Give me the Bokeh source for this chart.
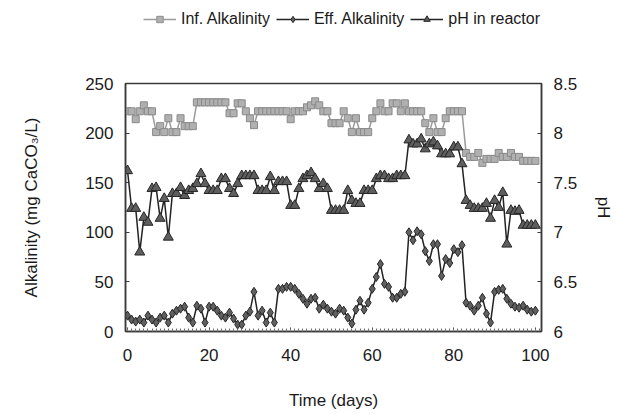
from bokeh.plotting import figure
from bokeh.layouts import column
from bokeh.models import (Range1d, LinearAxis, Legend, LegendItem,
                          SingleIntervalTicker)
from bokeh.embed import file_html
from bokeh.resources import INLINE

days = list(range(101))

inf_alk = [222, 222, 214, 222, 228, 222, 222, 201, 207, 201,
           215, 201, 201, 215, 207, 207, 207, 231, 231, 231,
           231, 231, 231, 231, 231, 220, 220, 230, 230, 222,
           215, 208, 222, 222, 222, 222, 222, 222, 222, 222,
           214, 222, 222, 222, 226, 228, 232, 228, 222, 222,
           210, 210, 210, 222, 215, 201, 215, 201, 201, 201,
           215, 222, 230, 222, 222, 230, 230, 222, 230, 222,
           222, 222, 222, 210, 201, 215, 201, 201, 215, 222,
           222, 222, 222, 180, 176, 176, 180, 170, 174, 174,
           174, 180, 176, 176, 180, 176, 176, 172, 172, 172, 172]

eff_alk = [16, 12, 10, 12, 9, 16, 12, 9, 14, 16,
           9, 18, 21, 23, 25, 14, 9, 26, 23, 9,
           25, 25, 21, 16, 14, 19, 13, 7, 7, 16,
           20, 40, 16, 21, 9, 19, 9, 43, 43, 45,
           45, 43, 38, 33, 28, 33, 34, 23, 27, 23,
           20, 18, 23, 21, 14, 8, 22, 31, 22, 29,
           43, 55, 68, 48, 45, 34, 34, 38, 40, 100,
           92, 101, 98, 81, 71, 88, 88, 56, 73, 69,
           83, 80, 87, 29, 26, 21, 26, 34, 18, 9,
           40, 42, 43, 33, 28, 25, 24, 26, 22, 20, 21]

ph = [7.62, 7.24, 7.24, 6.80, 7.15, 7.10, 7.44, 7.45, 7.14, 7.34,
      6.95, 7.39, 7.39, 7.45, 7.37, 7.42, 7.44, 7.49, 7.59, 7.49,
      7.42, 7.42, 7.42, 7.54, 7.54, 7.44, 7.39, 7.49, 7.57, 7.57,
      7.57, 7.57, 7.42, 7.42, 7.42, 7.56, 7.42, 7.51, 7.51, 7.51,
      7.27, 7.27, 7.44, 7.54, 7.57, 7.60, 7.54, 7.44, 7.49, 7.44,
      7.22, 7.22, 7.22, 7.22, 7.42, 7.32, 7.29, 7.29, 7.42, 7.42,
      7.42, 7.54, 7.57, 7.57, 7.54, 7.54, 7.57, 7.57, 7.57, 7.93,
      7.89, 7.89, 7.94, 7.84, 7.89, 7.91, 7.87, 7.79, 7.79, 7.79,
      7.86, 7.86, 7.69, 7.32, 7.27, 7.24, 7.24, 7.24, 7.29, 7.14,
      7.32, 7.25, 7.40, 6.88, 7.22, 7.21, 7.22, 7.07, 7.07, 7.07, 7.07]

x_ticks_interval = 20
series_labels = ["Inf. Alkalinity", "Eff. Alkalinity", "pH in reactor"]

FONT = "Liberation Sans"
TXT = "#1a1a1a"
AX = "#3a3a3a"

STY_INF_L = dict(line_color="#9a9a9a", line_width=1.5)
STY_INF_M = dict(marker="square", size=7, fill_color="#b0b0b0",
                 line_color="#8a8a8a", line_width=1)
STY_EFF_L = dict(line_color="#222222", line_width=1.5)
STY_EFF_M = dict(marker="diamond", size=9, fill_color="#606060",
                 line_color="#262626", line_width=1)
STY_PH_L = dict(line_color="#222222", line_width=1.5)
STY_PH_M = dict(marker="triangle", size=10, fill_color="#5e5e5e",
                line_color="#262626", line_width=1)

LEG_H = 40
p = figure(width=626, height=414 - LEG_H, output_backend="svg",
           toolbar_location=None,
           x_range=Range1d(-0.5, 101.5), y_range=Range1d(0, 250),
           min_border_left=125, min_border_right=85, min_border_top=83 - LEG_H,
           min_border_bottom=83, background_fill_color="white",
           border_fill_color="white")
p.extra_y_ranges = {"ph": Range1d(6, 8.5)}
p.grid.visible = False
p.outline_line_color = AX
p.outline_line_width = 1.5

p.line(days, inf_alk, **STY_INF_L)
p.scatter(days, inf_alk, **STY_INF_M)
p.line(days, eff_alk, **STY_EFF_L)
p.scatter(days, eff_alk, **STY_EFF_M)
p.line(days, ph, y_range_name="ph", **STY_PH_L)
p.scatter(days, ph, y_range_name="ph", **STY_PH_M)

p.xaxis.ticker = SingleIntervalTicker(interval=x_ticks_interval, num_minor_ticks=20)
p.yaxis.ticker = SingleIntervalTicker(interval=50, num_minor_ticks=0)
p.xaxis.axis_label = "Time (days)"
p.yaxis.axis_label = "Alkalinity (mg CaCO\u2083/L)"

ax2 = LinearAxis(y_range_name="ph", axis_label="pH",
                 ticker=SingleIntervalTicker(interval=0.5, num_minor_ticks=0))
p.add_layout(ax2, "right")

for ax in [p.xaxis[0], p.yaxis[0], ax2]:
    ax.axis_line_color = AX
    ax.axis_line_width = 1.5
    ax.major_tick_in = 4
    ax.major_tick_out = 0
    ax.major_tick_line_color = AX
    ax.minor_tick_in = 3
    ax.minor_tick_out = 0
    ax.minor_tick_line_color = "#777777"
    ax.major_label_text_font = FONT
    ax.major_label_text_font_size = "17px"
    ax.major_label_text_color = TXT
    ax.axis_label_text_font = FONT
    ax.axis_label_text_font_size = "17px"
    ax.axis_label_text_font_style = "normal"
    ax.axis_label_text_color = TXT
    ax.major_label_standoff = 12

p.xaxis.major_label_standoff = 17
p.xaxis.axis_label_standoff = 27
p.yaxis.axis_label_standoff = 41
ax2.axis_label_standoff = 14

# legend strip on top: its renderers reuse the series, which lie outside its view
lg = figure(width=626, height=LEG_H, output_backend="svg", toolbar_location=None,
            x_axis_type=None, y_axis_type=None, min_border=0,
            x_range=Range1d(-20, -10), y_range=Range1d(-20, -10),
            outline_line_color=None, background_fill_color="white",
            border_fill_color="white")
lg.grid.visible = False
a1 = lg.line(days, inf_alk, **STY_INF_L); b1 = lg.scatter(days, inf_alk, **STY_INF_M)
a2 = lg.line(days, eff_alk, **STY_EFF_L); b2 = lg.scatter(days, eff_alk, **STY_EFF_M)
a3 = lg.line(days, ph, **STY_PH_L); b3 = lg.scatter(days, ph, **STY_PH_M)

legend = Legend(items=[
    LegendItem(label=series_labels[0], renderers=[a1, b1]),
    LegendItem(label=series_labels[1], renderers=[a2, b2]),
    LegendItem(label=series_labels[2], renderers=[a3, b3]),
], orientation="horizontal", location=(18, 12), border_line_color=None,
    background_fill_alpha=0, label_text_font=FONT, label_text_font_size="16px",
    label_text_color=TXT, glyph_width=33, glyph_height=16, spacing=6,
    label_standoff=5, padding=0, margin=0)
lg.add_layout(legend, "center")

open("out.html", "w").write(file_html(column(lg, p, spacing=0), INLINE))
